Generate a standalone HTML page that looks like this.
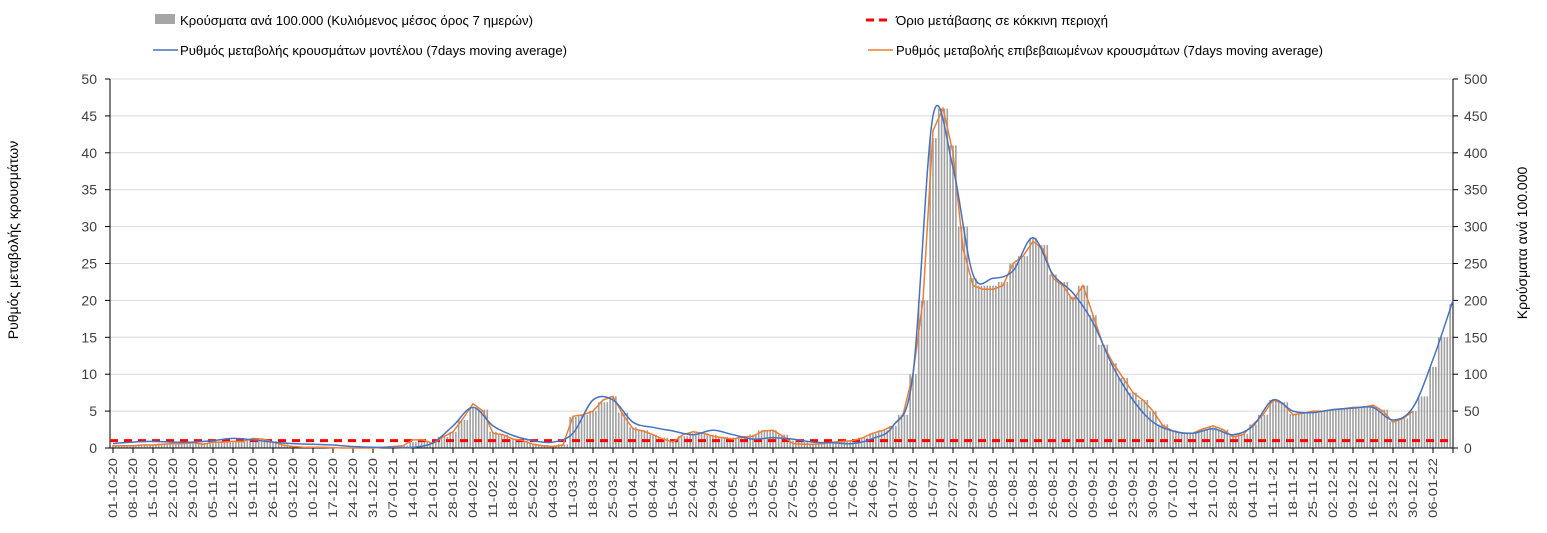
<!DOCTYPE html>
<html><head><meta charset="utf-8">
<style>
body{margin:0;background:#fff;}
svg{display:block;font-family:"Liberation Sans",sans-serif;}
</style></head>
<body>
<svg id="chart" width="1547" height="533" viewBox="0 0 1547 533">
<g id="grid"></g>
<g id="bars"></g>
<g id="axes"></g>
<g id="lines"></g>
<g>
  <rect x="155" y="14" width="20" height="10" fill="#a6a6a6"/>
  <text x="180" y="25" font-size="13" textLength="353" lengthAdjust="spacingAndGlyphs">Κρούσματα ανά 100.000 (Κυλιόμενος μέσος όρος 7 ημερών)</text>
  <line x1="866" y1="20" x2="892" y2="20" stroke="#ff0000" stroke-width="3" stroke-dasharray="8,5"/>
  <text x="896" y="25" font-size="13" textLength="212" lengthAdjust="spacingAndGlyphs">Όριο μετάβασης σε κόκκινη περιοχή</text>
  <line x1="153" y1="50" x2="178" y2="50" stroke="#4472c4" stroke-width="1.5"/>
  <text x="180" y="55" font-size="13" textLength="387" lengthAdjust="spacingAndGlyphs">Ρυθμός μεταβολής κρουσμάτων μοντέλου (7days moving average)</text>
  <line x1="868" y1="50" x2="893" y2="50" stroke="#ed7d31" stroke-width="1.5"/>
  <text x="896" y="55" font-size="13" textLength="427" lengthAdjust="spacingAndGlyphs">Ρυθμός μεταβολής επιβεβαιωμένων κρουσμάτων (7days moving average)</text>
</g>
<text transform="translate(18,240) rotate(-90)" text-anchor="middle" font-size="14">Ρυθμός μεταβολής κρουσμάτων</text>
<text transform="translate(1527,243) rotate(-90)" text-anchor="middle" font-size="14">Κρούσματα ανά 100.000</text>
</svg>
<script>
// weekly model rate (blue), week 0 = 01-10-20
const blueWeekly = [0.6,0.8,0.9,0.8,0.8,1.0,1.3,1.1,0.8,0.6,0.5,0.4,0.2,0.1,0.1,0.1,0.7,3.0,5.5,3.0,1.7,1.0,0.8,2.0,6.5,6.5,3.5,2.8,2.3,1.8,2.4,1.8,1.2,1.4,1.2,0.8,0.7,0.6,1.3,3.0,10,45,38,23.5,23,24,28.5,23.5,21,17,11,6.5,3.5,2.3,2.0,2.6,1.8,3.0,6.5,5.0,4.8,5.2,5.4,5.5,3.8,5.5,12,20];
// half-weekly confirmed rate (orange)
const orangeHalf = [0.3,0.3,0.3,0.4,0.4,0.5,0.6,0.6,0.7,0.5,0.8,0.8,0.9,0.9,1.3,1.2,0.8,0.4,0.2,0.1,0.1,0.1,0.05,0,0,0,0,0.1,0.2,0.3,1.1,1.1,0.6,1.5,2.2,4.0,6.0,5.0,2.0,1.8,1.2,1.0,0.5,0.3,0.2,0.4,4.3,4.5,5.0,6.5,7.0,4.5,2.6,2.3,1.8,1.2,0.8,1.8,2.2,2.0,1.6,1.4,1.2,1.5,1.6,2.3,2.4,1.6,0.6,0.5,0.5,0.6,0.8,0.9,1.0,1.4,2.0,2.4,3.0,4.5,10,20,43,46,40,27,22,21.5,21.5,22,25,26,28,27,23,22,20,22,18,14,11.5,9.5,7.5,6.5,5.0,3.0,2.3,2.0,2.0,2.6,3.0,2.5,1.5,1.8,3.2,4.5,6.5,6.0,4.5,4.7,5.0,5.0,5.2,5.3,5.5,5.5,5.8,5.0,3.5,4.0,5.0];
// half-weekly cases per 100k (bars)
const casesHalf = [4,4,4,5,5,6,7,7,8,7,9,9,10,10,12,12,9,5,3,2,1,1,1,0,0,0,0,1,2,3,8,10,8,15,22,38,55,52,22,18,12,10,6,4,3,5,42,45,50,62,70,48,28,24,18,14,10,16,20,20,18,15,14,16,18,24,24,18,10,8,6,7,9,10,11,14,20,24,30,45,100,200,420,460,410,300,230,220,220,225,250,260,285,275,235,225,205,220,180,140,115,95,75,65,50,32,24,21,20,25,28,25,17,19,32,45,65,62,46,47,50,50,52,53,55,55,57,52,36,40,50,70,110,150,195];
const tickLabels = ["01-10-20","08-10-20","15-10-20","22-10-20","29-10-20","05-11-20","12-11-20","19-11-20","26-11-20","03-12-20","10-12-20","17-12-20","24-12-20","31-12-20","07-01-21","14-01-21","21-01-21","28-01-21","04-02-21","11-02-21","18-02-21","25-02-21","04-03-21","11-03-21","18-03-21","25-03-21","01-04-21","08-04-21","15-04-21","22-04-21","29-04-21","06-05-21","13-05-21","20-05-21","27-05-21","03-06-21","10-06-21","17-06-21","24-06-21","01-07-21","08-07-21","15-07-21","22-07-21","29-07-21","05-08-21","12-08-21","19-08-21","26-08-21","02-09-21","09-09-21","16-09-21","23-09-21","30-09-21","07-10-21","14-10-21","21-10-21","28-10-21","04-11-21","11-11-21","18-11-21","25-11-21","02-12-21","09-12-21","16-12-21","23-12-21","30-12-21","06-01-22"];
const leftTicks = [0,5,10,15,20,25,30,35,40,45,50];
const rightTicks = [0,50,100,150,200,250,300,350,400,450,500];
const threshold = [1];

const NS="http://www.w3.org/2000/svg";
const X0=113, PXW=20, Y0=448, YTOP=79, PXD=PXW/7;
const xW = w => X0 + w*PXW;
const yL = v => Y0 - v/50*(Y0-YTOP);
const yR = v => Y0 - v/500*(Y0-YTOP);
function mk(tag, attrs, parent){const e=document.createElementNS(NS,tag);for(const k in attrs)e.setAttribute(k,attrs[k]);parent.appendChild(e);return e;}
const grid=document.getElementById('grid'), axes=document.getElementById('axes'), barsG=document.getElementById('bars'), linesG=document.getElementById('lines');

leftTicks.forEach((t,i)=>{
  if(t>0){const g=mk('line',{x1:110,x2:1453,y1:yL(t),y2:yL(t),stroke:'#d9d9d9','stroke-width':1},grid);
  
  }
  const tl=mk('text',{x:97,y:yL(t)+5,'text-anchor':'end','font-size':14,fill:'#404040'},axes);
  tl.textContent=t;
  
  
  mk('line',{x1:105,x2:110,y1:yL(t),y2:yL(t),stroke:'#000'},axes);
});
rightTicks.forEach(t=>{
  const tr=mk('text',{x:1464,y:yR(t)+5,'font-size':14,fill:'#404040'},axes);
  tr.textContent=t;
  
  
  mk('line',{x1:1453,x2:1458,y1:yR(t),y2:yR(t),stroke:'#000'},axes);
});
mk('line',{x1:110,x2:110,y1:YTOP,y2:Y0,stroke:'#000'},axes);
mk('line',{x1:1453,x2:1453,y1:YTOP,y2:Y0,stroke:'#000'},axes);
mk('line',{x1:110,x2:1453,y1:Y0,y2:Y0,stroke:'#000'},axes);

// daily bars: each day uses nearest half-week sample
const nDays=469;
for(let d=0;d<nDays;d++){
  const idx=Math.min(casesHalf.length-1,Math.round(d/3.5));
  const v=casesHalf[idx];
  const x=X0+d*PXD;
  const b=mk('rect',{x:x-0.8,y:yR(v),width:1.6,height:Math.max(0,Y0-yR(v)),fill:'#a0a0a0'},barsG);
  
  
}

// x ticks
tickLabels.forEach((lab,i)=>{
  const x=xW(i);
  mk('line',{x1:x,x2:x,y1:Y0,y2:Y0+5,stroke:'#000'},axes);
  const t=mk('text',{transform:`translate(${x+4},${Y0+10}) rotate(-90)`,'text-anchor':'end','font-size':12,textLength:60,lengthAdjust:'spacingAndGlyphs',fill:'#404040'},axes);
  t.textContent=lab;
  
  
});
mk('line',{x1:xW(67),x2:xW(67),y1:Y0,y2:Y0+5,stroke:'#000'},axes);

// threshold
const th=mk('line',{x1:110,x2:1453,y1:yL(threshold[0]),y2:yL(threshold[0]),stroke:'#ff0000','stroke-width':3,'stroke-dasharray':'8,6'},linesG);



// orange
const op=orangeHalf.map((v,i)=>`${i?'L':'M'}${xW(i/2).toFixed(1)},${yL(v).toFixed(1)}`).join('');
const o=mk('path',{d:op,fill:'none',stroke:'#ed7d31','stroke-width':1.5},linesG);



// blue smooth (Catmull-Rom)
const pts=blueWeekly.map((v,i)=>[xW(i),yL(v)]);
let d=`M${pts[0][0]},${pts[0][1]}`;
for(let i=0;i<pts.length-1;i++){
  const p0=pts[Math.max(0,i-1)],p1=pts[i],p2=pts[i+1],p3=pts[Math.min(pts.length-1,i+2)];
  const c1=[p1[0]+(p2[0]-p0[0])/6,p1[1]+(p2[1]-p0[1])/6];
  const c2=[p2[0]-(p3[0]-p1[0])/6,p2[1]-(p3[1]-p1[1])/6];
  d+=`C${c1[0].toFixed(1)},${c1[1].toFixed(1)} ${c2[0].toFixed(1)},${c2[1].toFixed(1)} ${p2[0].toFixed(1)},${p2[1].toFixed(1)}`;
}
const b=mk('path',{d:d,fill:'none',stroke:'#4472c4','stroke-width':1.5},linesG);


</script>
</body></html>
